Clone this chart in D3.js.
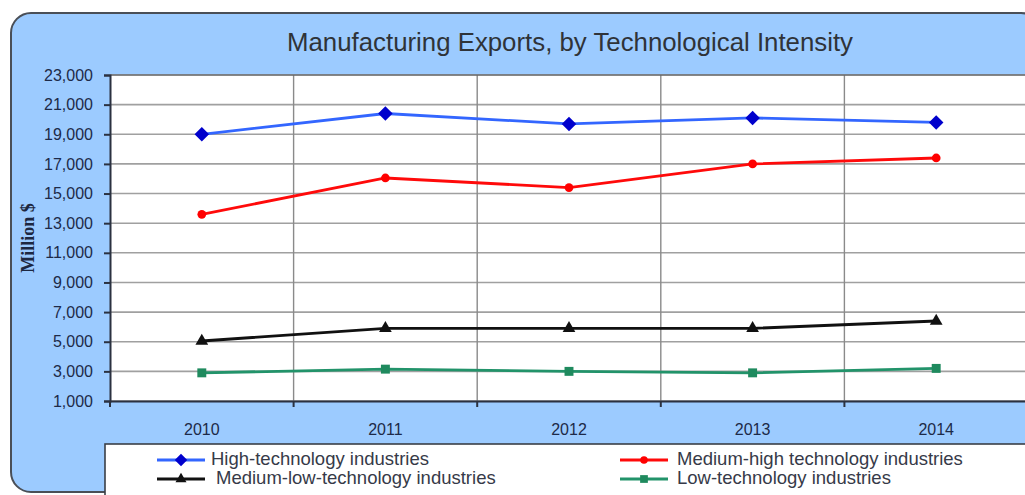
<!DOCTYPE html>
<html>
<head>
<meta charset="utf-8">
<script src="https://cdn.jsdelivr.net/npm/d3@7"></script>
<style>
  html, body { margin: 0; padding: 0; background: #ffffff; }
  svg { display: block; }
</style>
</head>
<body>
<svg id="chart" width="1025" height="495"></svg>
<script>
// Manufacturing exports (million $) by technological intensity, 2010-2014
const years = ["2010", "2011", "2012", "2013", "2014"];
const highTech = [19000, 20400, 19700, 20100, 19800];
const mediumHighTech = [13600, 16050, 15400, 17000, 17400];
const mediumLowTech = [5050, 5900, 5900, 5900, 6400];
const lowTech = [2900, 3150, 3000, 2900, 3200];
const yTicks = [1000, 3000, 5000, 7000, 9000, 11000, 13000, 15000, 17000, 19000, 21000, 23000];

// A diamond drawn as a square turned 45 degrees
const rotatedSquare = {
  draw(context, size) {
    const r = Math.sqrt(size) / Math.SQRT2;
    context.moveTo(0, -r);
    context.lineTo(r, 0);
    context.lineTo(0, r);
    context.lineTo(-r, 0);
    context.closePath();
  }
};

const series = [
  { name: "High-technology industries", values: highTech, line: "#3366ff", fill: "#0000cc", shape: rotatedSquare, size: 105 },
  { name: "Medium-high technology industries", values: mediumHighTech, line: "#ff0a0a", fill: "#ff0000", shape: d3.symbolCircle, size: 60 },
  { name: "Medium-low-technology industries", values: mediumLowTech, line: "#111111", fill: "#111111", shape: d3.symbolTriangle, size: 70 },
  { name: "Low-technology industries", values: lowTech, line: "#22936a", fill: "#1f8a5e", shape: d3.symbolSquare, size: 80 }
];

const sans = "Arial, 'Liberation Sans', sans-serif";
const svg = d3.select("#chart");

// Rounded outer panel
svg.append("rect")
  .attr("x", 11).attr("y", 13)
  .attr("width", 1030).attr("height", 479)
  .attr("rx", 20).attr("ry", 20)
  .attr("fill", "#9ccbff")
  .attr("stroke", "#4a4f57").attr("stroke-width", 2);

const plot = { left: 110, top: 75, right: 1028, bottom: 401 };

const x = d3.scaleBand().domain(years).range([plot.left, plot.right]);
const y = d3.scaleLinear().domain([1000, 23000]).range([plot.bottom, plot.top]);

// Plot background
svg.append("rect")
  .attr("x", plot.left).attr("y", plot.top)
  .attr("width", plot.right - plot.left).attr("height", plot.bottom - plot.top)
  .attr("fill", "#ffffff");

// Horizontal gridlines
svg.append("g")
  .selectAll("line")
  .data(yTicks)
  .join("line")
  .attr("x1", plot.left).attr("x2", plot.right)
  .attr("y1", d => y(d)).attr("y2", d => y(d))
  .attr("stroke", "#a0a0a0").attr("stroke-width", 1.6);

// Vertical gridlines at category boundaries
svg.append("g")
  .selectAll("line")
  .data(years.slice(1))
  .join("line")
  .attr("x1", d => x(d)).attr("x2", d => x(d))
  .attr("y1", plot.top).attr("y2", plot.bottom)
  .attr("stroke", "#8a8a8a").attr("stroke-width", 1.4);

// Top frame line of plot
svg.append("line")
  .attr("x1", plot.left).attr("x2", plot.right)
  .attr("y1", plot.top).attr("y2", plot.top)
  .attr("stroke", "#555555").attr("stroke-width", 1.2);

// Y axis
const yAxis = svg.append("g")
  .attr("transform", `translate(${plot.left},0)`)
  .call(d3.axisLeft(y).tickValues(yTicks).tickSize(6).tickPadding(11).tickFormat(d3.format(",")))
  .attr("font-size", 16)
  .attr("font-family", sans);
yAxis.select(".domain").attr("stroke", "#2b3140").attr("stroke-width", 2);
yAxis.selectAll(".tick line").attr("stroke", "#2b3140").attr("stroke-width", 2);
yAxis.selectAll("text")
  .attr("fill", "#1d2a48")
  .attr("font-size", 16);

// X axis with ticks at category boundaries
const xAxis = svg.append("g")
  .attr("transform", `translate(0,${plot.bottom})`)
  .call(d3.axisBottom(x).tickSize(0).tickPadding(23))
  .attr("font-size", 16)
  .attr("font-family", sans);
xAxis.select(".domain").attr("stroke", "#2b3140").attr("stroke-width", 2);
xAxis.selectAll("text")
  .attr("fill", "#1d2a48")
  .attr("font-size", 16);
svg.append("g")
  .selectAll("line")
  .data(years)
  .join("line")
  .attr("x1", d => x(d)).attr("x2", d => x(d))
  .attr("y1", plot.bottom).attr("y2", plot.bottom + 6)
  .attr("stroke", "#2b3140").attr("stroke-width", 2);

// Title
svg.append("text")
  .attr("x", 570).attr("y", 51)
  .attr("text-anchor", "middle")
  .attr("fill", "#2f3338")
  .attr("font-family", sans)
  .attr("font-size", 25.8)
  .text("Manufacturing Exports, by Technological Intensity");

// Y axis title
svg.append("text")
  .attr("transform", "translate(34,238) rotate(-90)")
  .attr("text-anchor", "middle")
  .attr("fill", "#1d2740")
  .attr("font-family", "'Liberation Serif', 'Times New Roman', serif")
  .attr("font-weight", "bold")
  .attr("font-size", 18)
  .text("Million $");

// Series lines and markers
const cx = d => x(d) + x.bandwidth() / 2;
const line = d3.line().x((v, i) => cx(years[i])).y(v => y(v));

series.forEach(s => {
  svg.append("path")
    .datum(s.values)
    .attr("d", line)
    .attr("fill", "none")
    .attr("stroke", s.line)
    .attr("stroke-width", 2.8);
  svg.append("g")
    .selectAll("path")
    .data(s.values)
    .join("path")
    .attr("transform", (v, i) => `translate(${cx(years[i])},${y(v)})`)
    .attr("d", d3.symbol().type(s.shape).size(s.size))
    .attr("fill", s.fill);
});

// Legend box
svg.append("rect")
  .attr("x", 105).attr("y", 444)
  .attr("width", 940).attr("height", 60)
  .attr("fill", "#ffffff")
  .attr("stroke", "#3a3f47").attr("stroke-width", 1.6);

const legendPos = [
  { x: 157, y: 460, tx: 211 },
  { x: 620, y: 460, tx: 677 },
  { x: 157, y: 479, tx: 216 },
  { x: 620, y: 479, tx: 677 }
];

series.forEach((s, i) => {
  const p = legendPos[i];
  const g = svg.append("g");
  g.append("line")
    .attr("x1", p.x).attr("x2", p.x + 48)
    .attr("y1", p.y).attr("y2", p.y)
    .attr("stroke", s.line).attr("stroke-width", 2.8);
  g.append("path")
    .attr("transform", `translate(${p.x + 24},${p.y})`)
    .attr("d", d3.symbol().type(s.shape).size(s.size * 0.75))
    .attr("fill", s.fill);
  g.append("text")
    .attr("x", p.tx).attr("y", p.y + 5)
    .attr("fill", "#363a48")
    .attr("font-family", sans)
    .attr("font-size", 18.5)
    .text(s.name);
});
</script>
</body>
</html>
